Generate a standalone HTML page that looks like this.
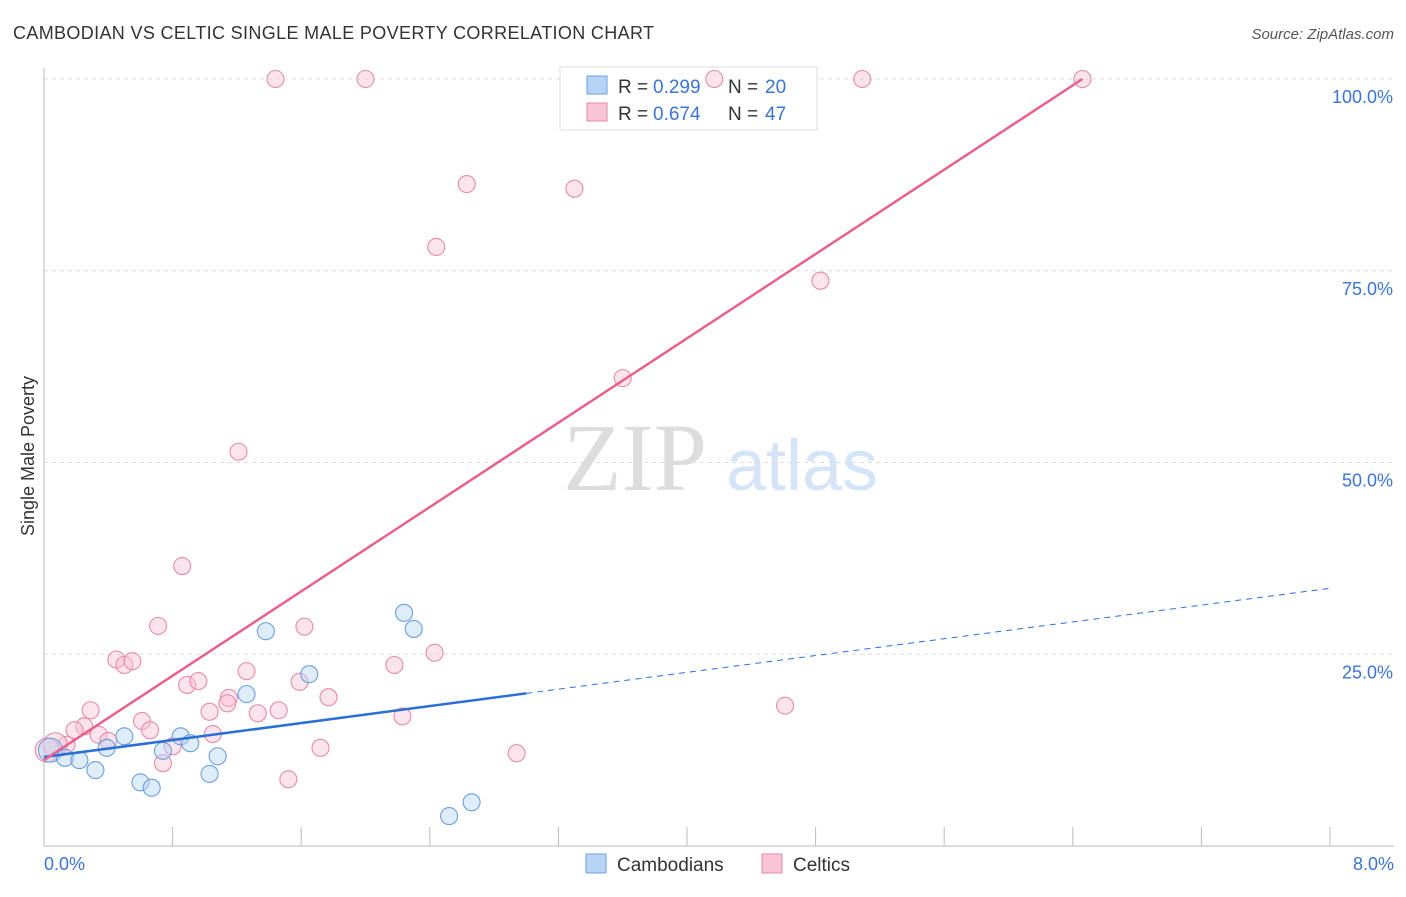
<!DOCTYPE html>
<html><head><meta charset="utf-8"><style>
body{margin:0;background:#fff;font-family:"Liberation Sans",sans-serif}
</style></head><body>
<svg width="1406" height="892" xmlns="http://www.w3.org/2000/svg" font-family="Liberation Sans, sans-serif">
<text x="13" y="39" font-size="18" fill="#333" textLength="641">CAMBODIAN VS CELTIC SINGLE MALE POVERTY CORRELATION CHART</text>
<text x="1394" y="39" font-size="15" fill="#555" text-anchor="end" font-style="italic">Source: ZipAtlas.com</text>
<g>
<text x="635" y="490" font-size="96" fill="#ddd" text-anchor="middle" font-family="Liberation Serif, serif">ZIP</text>
<text x="802" y="490" font-size="72" fill="#d5e4f6" text-anchor="middle">atlas</text>
</g>
<g id="grid"></g><g id="axes"></g>
<g>
<rect x="560" y="67" width="257" height="63" fill="#fff" stroke="#ddd"/>
<rect x="587" y="76" width="20" height="18" fill="#b8d4f5" stroke="#6a9fe0"/>
<rect x="587" y="103" width="20" height="18" fill="#f9c4d4" stroke="#e88aa8"/>
<text x="618" y="93" font-size="19" fill="#333">R = </text><text x="653" y="93" font-size="19" fill="#3b74d6">0.299</text>
<text x="728" y="93" font-size="19" fill="#333">N = </text><text x="765" y="93" font-size="19" fill="#3b74d6">20</text>
<text x="618" y="120" font-size="19" fill="#333">R = </text><text x="653" y="120" font-size="19" fill="#3b74d6">0.674</text>
<text x="728" y="120" font-size="19" fill="#333">N = </text><text x="765" y="120" font-size="19" fill="#3b74d6">47</text>
</g>
<g id="marks"></g>
<text transform="translate(34,456) rotate(-90)" font-size="18" fill="#333" text-anchor="middle">Single Male Poverty</text>
<text x="44" y="870" font-size="18" fill="#3b74d6">0.0%</text>
<text x="1394" y="870" font-size="18" fill="#3b74d6" text-anchor="end">8.0%</text>
<g>
<rect x="586" y="854" width="20" height="19" fill="#b8d4f5" stroke="#6a9fe0"/>
<text x="617" y="871" font-size="19" fill="#333">Cambodians</text>
<rect x="762" y="854" width="20" height="19" fill="#f9c4d4" stroke="#e88aa8"/>
<text x="793" y="871" font-size="19" fill="#333">Celtics</text>
</g>
</svg>
<script>
const yTicks=[25,50,75,100];
const yTickLabels=["25.0%","50.0%","75.0%","100.0%"];
const xTicks=[0,0.8,1.6,2.4,3.2,4.0,4.8,5.6,6.4,7.2,8.0];
const blueX=[0.04,0.13,0.22,0.32,0.39,0.50,0.60,0.67,0.74,0.85,0.91,1.03,1.08,1.26,1.38,1.65,2.24,2.30,2.52,2.66];
const blueY=[12.5,11.5,11.2,9.9,12.8,14.3,8.3,7.6,12.4,14.3,13.4,9.4,11.7,19.8,28.0,22.4,30.4,28.3,3.9,5.7];
const pinkX=[1.44,2.00,4.17,5.09,6.46,2.63,3.30,2.44,4.83,3.60,1.21,0.86,0.71,1.62,0.45,0.50,0.55,2.43,2.18,1.26,0.89,0.96,1.59,1.77,1.15,1.14,0.29,1.46,1.33,1.03,2.23,4.61,0.61,0.66,0.25,0.19,0.34,0.40,1.05,0.80,0.14,0.07,1.72,2.94,0.74,1.52,0.02];
const pinkY=[100,100,100,100,100,86.3,85.7,78.1,73.7,61.0,51.4,36.5,28.7,28.6,24.3,23.6,24.1,25.2,23.6,22.8,21.0,21.5,21.4,19.4,19.3,18.6,17.7,17.7,17.3,17.5,16.9,18.3,16.3,15.1,15.6,15.1,14.5,13.7,14.6,13.0,13.2,13.2,12.8,12.1,10.8,8.7,12.5];
const blueLineX=[0,3.0,8.0];
const blueLineY=[11.6,19.9,33.6];
const pinkLineX=[0,6.46];
const pinkLineY=[11.2,100];
const NS="http://www.w3.org/2000/svg";
const sx=v=>44+v/8*1286;
const sy=v=>846-v*7.67;
function mk(t,a,p){const e=document.createElementNS(NS,t);for(const k in a)e.setAttribute(k,a[k]);p.appendChild(e);return e;}
const grid=document.getElementById('grid'),axes=document.getElementById('axes'),marks=document.getElementById('marks');
yTicks.forEach((v,i)=>{
 const l=mk('line',{x1:44,x2:1394,y1:sy(v),y2:sy(v),stroke:'#ddd','stroke-dasharray':'4,4'},grid);
 
 
 const t=mk('text',{x:1393,y:sy(v)+24,'font-size':18,fill:'#3b74d6','text-anchor':'end'},axes);
 t.textContent=yTickLabels[i];
 
 
});
let a=mk('line',{x1:44,x2:44,y1:68,y2:846,stroke:'#bbb'},axes);


a=mk('line',{x1:44,x2:1394,y1:846,y2:846,stroke:'#bbb'},axes);


xTicks.forEach(v=>{
 const t=mk('line',{x1:sx(v),x2:sx(v),y1:827,y2:846,stroke:'#bbb'},axes);
 
 
});
function pts(X,Y,fill,stroke,name){X.forEach((x,i)=>{
 const big=x<0.1;
 const c=mk('circle',{cx:sx(x),cy:sy(Y[i]),r:big?12:8.5,fill:fill,'fill-opacity':0.45,stroke:stroke,'stroke-width':1.1},marks);
 
 
});}
pts(pinkX,pinkY,'#f9c4d4','#e88aa8','celtic-point');
pts(blueX,blueY,'#b8d4f5','#6a9fe0','cambodian-point');
let l=mk('line',{x1:sx(blueLineX[0]),y1:sy(blueLineY[0]),x2:sx(blueLineX[1]),y2:sy(blueLineY[1]),stroke:'#2a6fd6','stroke-width':2.5},marks);


l=mk('line',{x1:sx(blueLineX[1]),y1:sy(blueLineY[1]),x2:sx(blueLineX[2]),y2:sy(blueLineY[2]),stroke:'#2a6fd6','stroke-width':1,'stroke-dasharray':'6,5'},marks);


l=mk('line',{x1:sx(pinkLineX[0]),y1:sy(pinkLineY[0]),x2:sx(pinkLineX[1]),y2:sy(pinkLineY[1]),stroke:'#e8608e','stroke-width':2.5},marks);


</script>
</body></html>
